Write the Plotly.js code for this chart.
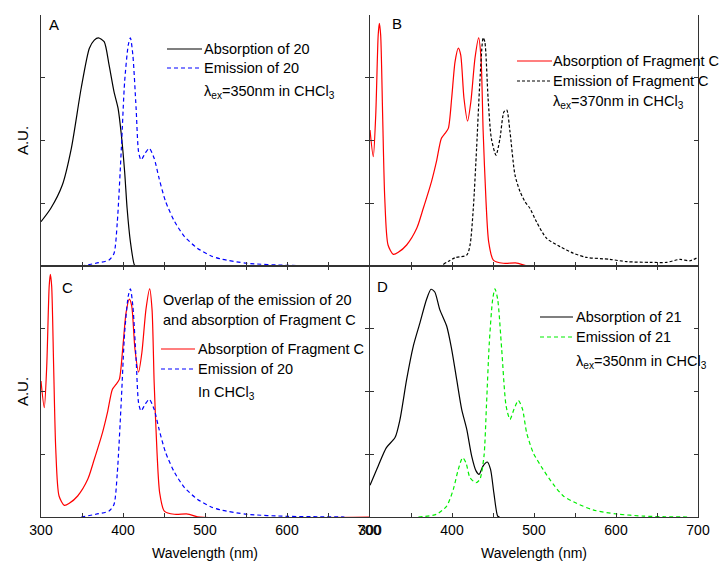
<!DOCTYPE html>
<html>
<head>
<meta charset="utf-8">
<script src="https://cdn.plot.ly/plotly-3.0.1.min.js"></script>
<style>html,body{margin:0;padding:0;background:#fff}#chart{width:721px;height:569px}</style>
</head>
<body>
<div id="chart"></div>
<script>
// ---- data ----
const xTickVals = [300, 400, 500, 600, 700];
const xTickText = ['300', '400', '500', '600', '700'];

// Panel A / C: compound 20
const abs20Wl = [300,312,326,337,349,359,365,370,377,383,389,394,398,402,405,409,414,416];
const abs20   = [0.194,0.253,0.355,0.516,0.779,0.954,0.99,1.0,0.983,0.881,0.764,0.691,0.574,0.413,0.253,0.107,0.004,0];

const em20Wl = [349,367,383,389,393,398,402,406.5,409,412,416,419,422,427,432,438,444,452,463,475,491,507,520,551,600,640,670];
const em20   = [0,0.012,0.026,0.055,0.19,0.516,0.808,0.97,1.0,0.925,0.69,0.50,0.465,0.494,0.516,0.472,0.384,0.282,0.194,0.129,0.077,0.045,0.03,0.012,0.003,0.001,0];

// Panel B / C: Fragment C
const absFragWl = [300,304,307,310,311.4,313,315.4,318,322,328.5,334.5,344.7,357,365,375,381,387,391.5,395.5,399.6,403.7,407.7,410.6,414.6,419,423,428,432.5,435.4,438,441.5,444.7,450.4,462.6,479,491,700];
const absFrag   = [0.596,0.479,0.662,1.012,1.063,1.012,0.662,0.297,0.092,0.051,0.06,0.092,0.165,0.253,0.37,0.457,0.559,0.581,0.603,0.735,0.895,0.955,0.925,0.735,0.635,0.72,0.91,1.0,0.91,0.589,0.282,0.107,0.026,0.012,0.013,0.001,0];

const emFragWl = [389.4,403.7,418,422,426,430,434,438,440,444,448,453.7,458.5,463.4,466.7,470.7,476.8,483,489,495,503,515.4,531.7,548,564,592.7,613,641.5,661.8,678,690,700];
const emFrag   = [0.007,0.036,0.048,0.092,0.253,0.516,0.808,1.0,0.983,0.735,0.559,0.486,0.559,0.676,0.684,0.589,0.399,0.326,0.282,0.253,0.194,0.121,0.085,0.056,0.038,0.029,0.019,0.016,0.016,0.029,0.023,0.038];

// Panel D: compound 21
const abs21Wl = [300,310,320,330.5,336.6,344.7,352.8,361,369,374.4,379,385,393.5,399.6,405.7,411.8,418,424,429.3,433,438,443,447,451,455.7,458];
const abs21   = [0.139,0.224,0.304,0.348,0.428,0.603,0.749,0.852,0.954,0.998,0.986,0.91,0.837,0.735,0.603,0.472,0.384,0.267,0.202,0.187,0.224,0.241,0.209,0.107,0.004,0];

const em21Wl = [359,381,393.5,401.6,407.7,413,417,422,429.3,434,439,442,445.5,449.6,452.4,455.7,460.6,466,470.7,475.6,481,486,491,499,511,523.6,535.8,552,572,601,633.6,660,690];
const em21   = [0,0.012,0.048,0.121,0.209,0.26,0.238,0.172,0.15,0.165,0.267,0.486,0.764,0.954,1.0,0.954,0.735,0.486,0.428,0.472,0.511,0.472,0.37,0.282,0.209,0.143,0.092,0.06,0.031,0.013,0.004,0.001,0];

// ---- styles ----
const FONT = 'Liberation Sans, Arial, sans-serif';
const AX = '#333333';
const C_BLACK = '#000000', C_BLUE = '#0000ff', C_RED = '#ff0000', C_GREEN = '#00ee00';
const D_BLUE = '4px,3px', D_BLACK = '3px,2px', D_GREEN = '4px,3px';

function tr(x, y, name, color, dash, xa, ya) {
  return {x: x, y: y, name: name, type: 'scatter', mode: 'lines',
    line: {color: color, width: 1.2, dash: dash, shape: 'spline', smoothing: 0.7},
    xaxis: xa, yaxis: ya, hoverinfo: 'skip', showlegend: false};
}
const data = [
  tr(abs20Wl, abs20, 'Absorption of 20', C_BLACK, 'solid', 'x', 'y'),
  tr(em20Wl, em20, 'Emission of 20', C_BLUE, D_BLUE, 'x', 'y'),
  tr(absFragWl, absFrag, 'Absorption of Fragment C', C_RED, 'solid', 'x2', 'y2'),
  tr(emFragWl, emFrag, 'Emission of Fragment C', C_BLACK, D_BLACK, 'x2', 'y2'),
  tr(absFragWl, absFrag, 'Absorption of Fragment C', C_RED, 'solid', 'x3', 'y3'),
  tr(em20Wl, em20, 'Emission of 20', C_BLUE, D_BLUE, 'x3', 'y3'),
  tr(abs21Wl, abs21, 'Absorption of 21', C_BLACK, 'solid', 'x4', 'y4'),
  tr(em21Wl, em21, 'Emission of 21', C_GREEN, D_GREEN, 'x4', 'y4')
];

// ---- layout ----
const L = 41, R = 698, T = 15, B = 517;
const px = v => (v - L) / (R - L);
const py = v => (B - v) / (B - T);

function xAxis(dom, anchor, labels, top) {
  return {domain: dom, anchor: anchor, range: [300, 700], showgrid: false, zeroline: false,
    showline: true, linecolor: AX, linewidth: 1, mirror: top ? false : 'ticks',
    ticks: 'inside', ticklen: 4, tickcolor: AX, tickvals: xTickVals, ticktext: xTickText,
    showticklabels: labels, tickfont: {family: FONT, size: 14, color: '#000'},
    minor: {dtick: 50, tick0: 300, ticks: 'inside', ticklen: 4, tickcolor: AX, showgrid: false},
    title: labels ? {text: 'Wavelength (nm)', font: {family: FONT, size: 14, color: '#000'}, standoff: 11} : {text: ''},
    fixedrange: true};
}
function yAxis(dom, anchor, title) {
  return {domain: dom, anchor: anchor, range: [0, 1.1], tick0: 0, dtick: 0.275,
    showgrid: false, zeroline: false, showline: true, linecolor: AX, linewidth: 1, mirror: 'ticks',
    ticks: 'inside', ticklen: 4, tickcolor: AX, showticklabels: false,
    title: title ? {text: title, font: {family: FONT, size: 15, color: '#000'}, standoff: 7} : {text: ''},
    fixedrange: true};
}
const xd1 = [0, px(369)], xd2 = [px(370), 1];
const ydTop = [py(266), 1], ydBot = [0, py(266)];

function ann(text, xp, yp, size) {
  return {text: text, x: px(xp), y: py(yp), xref: 'paper', yref: 'paper', xanchor: 'left', yanchor: 'middle',
    showarrow: false, font: {family: FONT, size: size || 14.5, color: '#000'}};
}
function sample(x0, x1, yp, color, dash) {
  return {type: 'line', xref: 'paper', yref: 'paper', x0: px(x0), x1: px(x1), y0: py(yp), y1: py(yp),
    line: {color: color, width: 1.2, dash: dash}};
}

const layout = {
  width: 721, height: 569,
  margin: {l: L, r: 721 - R, t: T, b: 569 - B},
  paper_bgcolor: '#fff', plot_bgcolor: '#fff',
  showlegend: false,
  xaxis: xAxis(xd1, 'y', false, true),
  yaxis: yAxis(ydTop, 'x', 'A.U.'),
  xaxis2: xAxis(xd2, 'y2', false, true),
  yaxis2: yAxis(ydTop, 'x2', ''),
  xaxis3: xAxis(xd1, 'y3', true, false),
  yaxis3: yAxis(ydBot, 'x3', 'A.U.'),
  xaxis4: xAxis(xd2, 'y4', true, false),
  yaxis4: yAxis(ydBot, 'x4', ''),
  shapes: [
    sample(167, 202, 49, C_BLACK, 'solid'), sample(167, 202, 68, C_BLUE, D_BLUE),
    sample(517, 552, 61, C_RED, 'solid'), sample(517, 552, 81, C_BLACK, D_BLACK),
    sample(161, 195, 349, C_RED, 'solid'), sample(161, 195, 369, C_BLUE, D_BLUE),
    sample(540, 573, 317, C_BLACK, 'solid'), sample(540, 573, 337, C_GREEN, D_GREEN)
  ],
  annotations: [
    ann('A', 47, 25, 15), ann('B', 390, 24, 15), ann('C', 60, 287, 15), ann('D', 375, 286, 15),
    ann('Absorption of 20', 202, 49), ann('Emission of 20', 202, 68),
    ann('λ<sub>ex</sub>=350nm in CHCl<sub>3</sub>', 202, 92),
    ann('Absorption of Fragment C', 551, 61), ann('Emission of Fragment C', 551, 81),
    ann('λ<sub>ex</sub>=370nm in CHCl<sub>3</sub>', 551, 102),
    ann('Overlap of the emission of 20', 161, 300),
    ann('and absorption of Fragment C', 161, 320),
    ann('Absorption of Fragment C', 196, 349), ann('Emission of 20', 196, 369),
    ann('In CHCl<sub>3</sub>', 196, 393),
    ann('Absorption of 21', 574, 317), ann('Emission of 21', 574, 337),
    ann('λ<sub>ex</sub>=350nm in CHCl<sub>3</sub>', 574, 362)
  ],
  font: {family: FONT, size: 14, color: '#000'}
};

Plotly.newPlot('chart', data, layout, {displayModeBar: false, staticPlot: true});
</script>
</body>
</html>
